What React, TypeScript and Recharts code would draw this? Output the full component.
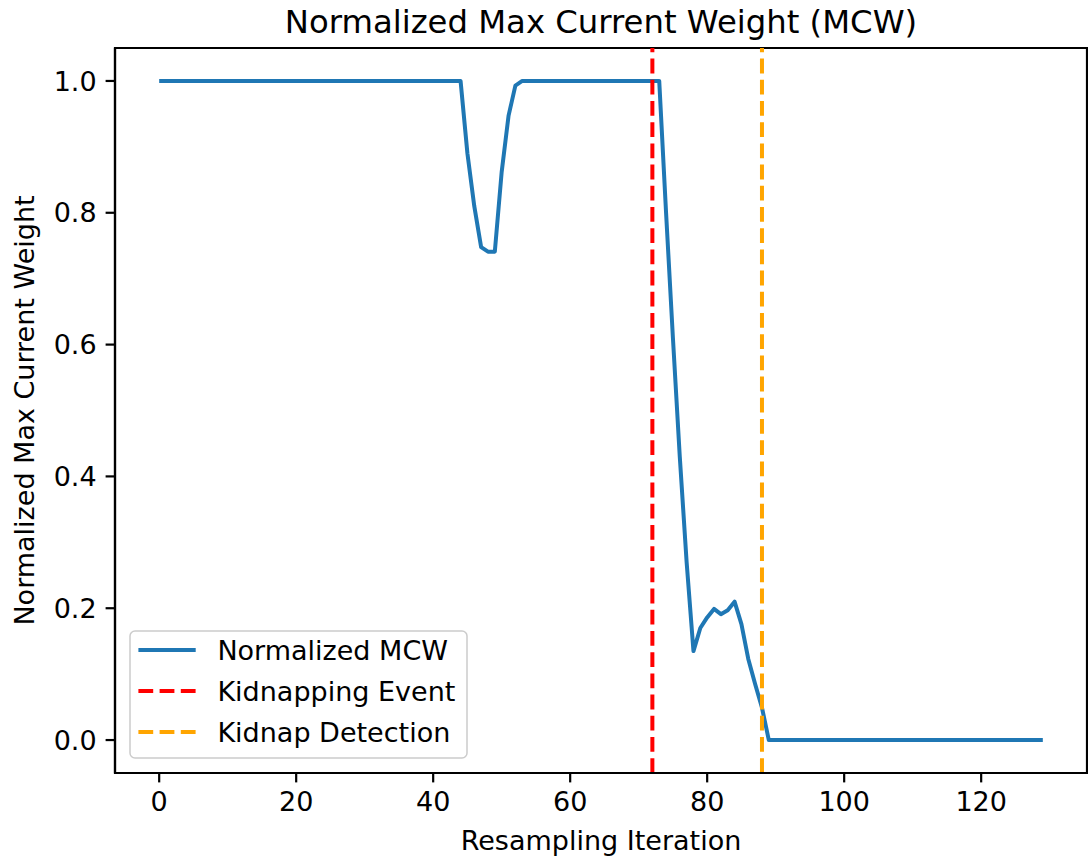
import React from 'react';
import { LineChart, Line, XAxis, YAxis, ReferenceLine, ReferenceArea, Legend } from 'recharts';

// Normalized max current weight per resampling iteration (0..129)
const mcwValues: number[] = [
  // 0-44
  1, 1, 1, 1, 1, 1, 1, 1, 1, 1,
  1, 1, 1, 1, 1, 1, 1, 1, 1, 1,
  1, 1, 1, 1, 1, 1, 1, 1, 1, 1,
  1, 1, 1, 1, 1, 1, 1, 1, 1, 1,
  1, 1, 1, 1, 1,
  // 45-52
  0.89, 0.81, 0.748, 0.741, 0.741, 0.862, 0.947, 0.993,
  // 53-73
  1, 1, 1, 1, 1, 1, 1, 1, 1, 1,
  1, 1, 1, 1, 1, 1, 1, 1, 1, 1, 1,
  // 74-88
  0.8, 0.61, 0.43, 0.27, 0.135, 0.17, 0.186, 0.199, 0.191, 0.197,
  0.21, 0.176, 0.123, 0.085, 0.049,
  // 89-129
  0, 0, 0, 0, 0, 0, 0, 0, 0, 0,
  0, 0, 0, 0, 0, 0, 0, 0, 0, 0,
  0, 0, 0, 0, 0, 0, 0, 0, 0, 0,
  0, 0, 0, 0, 0, 0, 0, 0, 0, 0,
  0,
];

const xTicks = [0, 20, 40, 60, 80, 100, 120];
const yTicks = [0, 0.2, 0.4, 0.6, 0.8, 1.0];
const xDomain: [number, number] = [-6.45, 135.45];
const yDomain: [number, number] = [-0.05, 1.05];
const kidnapEventIter = 72;
const kidnapDetectIter = 88;

const seriesNames = ['Normalized MCW', 'Kidnapping Event', 'Kidnap Detection'];
const seriesColors = ['#1f77b4', '#ff0000', '#ffa500'];
const seriesDash = ['', '14.8 6.4', '14.8 6.4'];

const titleText = 'Normalized Max Current Weight (MCW)';
const xLabelText = 'Resampling Iteration';
const yLabelText = 'Normalized Max Current Weight';

const data = mcwValues.map((v, i) => ({ iter: i, mcw: v }));

const FONT = 'DejaVu Sans, Verdana, sans-serif';
const FS = 27;

function YLabel(props: any) {
  const vb = props.viewBox || { x: 0, y: 0, width: 0, height: 0 };
  const x = vb.x + 34;
  const y = vb.y + vb.height / 2;
  return (
    <text
      x={x}
      y={y}
      transform={`rotate(-90 ${x} ${y})`}
      textAnchor="middle"
      fontFamily={FONT}
      fontSize={FS}
      fill="#000"
    >
      {yLabelText}
    </text>
  );
}

function LegendBox() {
  const rows = [20, 61, 102];
  return (
    <svg width={340} height={130} style={{ display: 'block' }}>
      <rect x={1} y={1} width={337} height={127} rx={5} ry={5} fill="#ffffff" fillOpacity={0.8} stroke="#cccccc" strokeWidth={1.5} />
      {seriesNames.map((name, i) => (
        <g key={name}>
          <line
            x1={9.4}
            x2={66.7}
            y1={rows[i]}
            y2={rows[i]}
            stroke={seriesColors[i]}
            strokeWidth={4}
            strokeDasharray={seriesDash[i] || undefined}
          />
          <text x={88.4} y={rows[i] + 9.5} fontFamily={FONT} fontSize={FS} fill="#000">
            {name}
          </text>
        </g>
      ))}
    </svg>
  );
}

export default function App() {
  return (
    <div style={{ position: 'absolute', left: 0, top: 0, width: 1088, height: 859, background: '#fff' }}>
      <LineChart
        width={1088}
        height={859}
        data={data}
        margin={{ top: 48, right: 1, bottom: 0, left: 0 }}
      >
        <XAxis
          dataKey="iter"
          type="number"
          domain={xDomain}
          ticks={xTicks}
          allowDataOverflow
          height={86}
          tickSize={9.4}
          tickMargin={9}
          stroke="#000"
          strokeWidth={2.2}
          tick={{ fill: '#000', fontSize: FS, fontFamily: FONT }}
          tickLine={{ stroke: '#000', strokeWidth: 2.2 }}
          label={{ value: xLabelText, position: 'insideBottom', offset: 9, fill: '#000', fontSize: FS, fontFamily: FONT }}
        />
        <YAxis
          type="number"
          domain={yDomain}
          ticks={yTicks}
          allowDataOverflow
          width={115}
          tickSize={9.4}
          tickMargin={9}
          stroke="#000"
          strokeWidth={2.2}
          tickFormatter={(v: number) => v.toFixed(1)}
          tick={{ fill: '#000', fontSize: FS, fontFamily: FONT }}
          tickLine={{ stroke: '#000', strokeWidth: 2.2 }}
          label={<YLabel />}
        />
        <ReferenceArea
          x1={xDomain[0]}
          x2={xDomain[1]}
          y1={yDomain[0]}
          y2={yDomain[1]}
          fill="none"
          fillOpacity={0}
          stroke="#000"
          strokeWidth={2.2}
          ifOverflow="visible"
        />
        <Line
          type="linear"
          dataKey="mcw"
          name={seriesNames[0]}
          stroke={seriesColors[0]}
          strokeWidth={4}
          strokeLinejoin="round"
          dot={false}
          activeDot={false}
          isAnimationActive={false}
        />
        <ReferenceLine x={kidnapEventIter} stroke={seriesColors[1]} strokeWidth={4} strokeDasharray={seriesDash[1]} />
        <ReferenceLine x={kidnapDetectIter} stroke={seriesColors[2]} strokeWidth={4} strokeDasharray={seriesDash[2]} />
        <Legend
          layout="vertical"
          align="center"
          verticalAlign="middle"
          content={() => <LegendBox />}
          wrapperStyle={{ left: 129, top: 630, width: 340, height: 130, right: 'auto', bottom: 'auto' }}
        />
      </LineChart>
      <svg width={1088} height={48} style={{ position: 'absolute', left: 0, top: 0, pointerEvents: 'none' }}>
        <text x={601} y={33} textAnchor="middle" fontFamily={FONT} fontSize={32.3} fill="#000">
          {titleText}
        </text>
      </svg>
    </div>
  );
}
